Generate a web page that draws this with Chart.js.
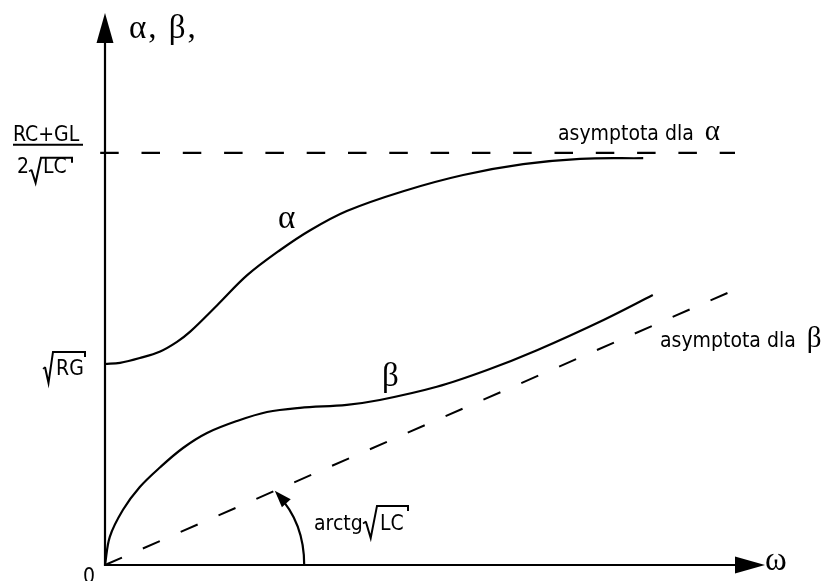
<!DOCTYPE html>
<html>
<head>
<meta charset="utf-8">
<script src="https://cdn.jsdelivr.net/npm/chart.js@4/dist/chart.umd.min.js"></script>
<style>
  html, body { margin: 0; padding: 0; background: #fff; }
  canvas { display: block; }
</style>
</head>
<body>
<canvas id="chart" width="822" height="581"></canvas>
<script>
// Attenuation constant α(ω) of a lossy line
const alphaAtZero = 3.35;   // √RG
const alphaLimit = 6.87;    // (RC+GL) / (2√LC)
const omegaAlpha = [0, 0.25, 0.58, 0.92, 1.2, 1.42, 1.87, 2.37, 2.92, 3.42, 4.03, 4.97, 5.97, 6.97, 7.92, 8.97];
const alphaValues = [alphaAtZero, 3.37, 3.45, 3.56, 3.72, 3.89, 4.33, 4.83, 5.25, 5.58, 5.9, 6.23, 6.5, 6.68, 6.77, 6.78];

// Phase constant β(ω)
const omegaBeta = [0, 0.08, 0.3, 0.58, 0.92, 1.3, 1.7, 2.2, 2.7, 3.25, 4.03, 4.58, 5.53, 6.37, 7.2, 8.3, 9.13];
const betaValues = [0, 0.47, 0.92, 1.3, 1.63, 1.95, 2.2, 2.4, 2.55, 2.62, 2.67, 2.75, 2.97, 3.25, 3.58, 4.08, 4.5];

// Asymptote of β: slope √LC
const betaSlope = 0.437;
const asymptoteSpan = [-0.08, 10.5];

// Angle marker between the ω axis and the β asymptote
const angleArcFrom = 3.32;  // where the arc leaves the ω axis
const angleArcTo = 2.83;    // ω where the arrow meets the asymptote

const SANS = '"DejaVu Sans Condensed", "DejaVu Sans", sans-serif';
const SERIF = '"Liberation Serif", "DejaVu Serif", serif';
const DASH = [18.5, 22.8];

const pts = (xs, ys) => xs.map((x, i) => ({ x, y: ys[i] }));

// Radical sign drawn into a box, followed by the vinculum
function radical(ctx, x0, x1, top, bottom, overEnd) {
  const h = bottom - top, w = x1 - x0;
  ctx.save();
  ctx.lineJoin = 'miter';
  ctx.lineCap = 'butt';
  ctx.lineWidth = 1.6;
  ctx.beginPath();
  ctx.moveTo(x0, top + h * 0.56);
  ctx.lineTo(x0 + w * 0.22, top + h * 0.5);
  ctx.stroke();
  ctx.lineWidth = 2;
  ctx.beginPath();
  ctx.moveTo(x0 + w * 0.2, top + h * 0.5);
  ctx.lineTo(x0 + w * 0.55, bottom);
  ctx.lineTo(x1, top + 0.9);
  ctx.lineTo(overEnd, top + 0.9);
  ctx.lineTo(overEnd, top + 6);
  ctx.stroke();
  ctx.restore();
}

function text(ctx, s, x, y, font) {
  ctx.font = font;
  ctx.fillText(s, x, y);
}

const diagram = {
  id: 'diagram',
  afterDatasetsDraw(chart) {
    const ctx = chart.ctx;
    const xs = chart.scales.x, ys = chart.scales.y;
    const x0 = xs.getPixelForValue(0), y0 = ys.getPixelForValue(0);
    const top = chart.chartArea.top, right = chart.chartArea.right;
    ctx.save();
    ctx.strokeStyle = '#000';
    ctx.fillStyle = '#000';
    ctx.lineCap = 'butt';

    // axes with arrowheads
    ctx.lineWidth = 2.2;
    ctx.beginPath();
    ctx.moveTo(x0, y0 + 1);
    ctx.lineTo(x0, top + 20);
    ctx.moveTo(x0 - 1, y0);
    ctx.lineTo(right - 20, y0);
    ctx.stroke();
    ctx.beginPath();
    ctx.moveTo(x0, top);
    ctx.lineTo(x0 - 8.5, top + 30);
    ctx.lineTo(x0 + 8.5, top + 30);
    ctx.closePath();
    ctx.fill();
    ctx.beginPath();
    ctx.moveTo(right, y0);
    ctx.lineTo(right - 30, y0 - 8.5);
    ctx.lineTo(right - 30, y0 + 8.5);
    ctx.closePath();
    ctx.fill();

    // angle arc with arrow
    const bx = xs.getPixelForValue(angleArcFrom), by = y0;
    const tx = xs.getPixelForValue(angleArcTo), ty = ys.getPixelForValue(betaSlope * angleArcTo);
    const cx = bx, cy = ty + 0.43 * (by - ty);
    ctx.lineWidth = 2.2;
    ctx.beginPath();
    ctx.moveTo(bx, by);
    ctx.quadraticCurveTo(cx, cy, tx + 3, ty + 4);
    ctx.stroke();
    const dx = tx - cx, dy = ty - cy, L = Math.hypot(dx, dy);
    const ux = dx / L, uy = dy / L;
    ctx.beginPath();
    ctx.moveTo(tx, ty);
    ctx.lineTo(tx - ux * 17 - uy * 6, ty - uy * 17 + ux * 6);
    ctx.lineTo(tx - ux * 17 + uy * 6, ty - uy * 17 - ux * 6);
    ctx.closePath();
    ctx.fill();

    ctx.textBaseline = 'alphabetic';
    ctx.textAlign = 'left';
    const sans = '21px ' + SANS, greek = '33px ' + SERIF, greekSmall = '29px ' + SERIF;

    // axis names
    ctx.letterSpacing = '2px';
    text(ctx, 'α, β,', 129, 38, greek);
    ctx.letterSpacing = '0px';
    text(ctx, 'ω', 765, 570, greek);
    text(ctx, '0', 83, 583, sans);

    // (RC+GL) / (2√LC) at the α asymptote
    const yl = ys.getPixelForValue(alphaLimit);
    text(ctx, 'RC+GL', 13, yl - 12, sans);
    ctx.lineWidth = 2;
    ctx.beginPath();
    ctx.moveTo(13, yl - 8);
    ctx.lineTo(83, yl - 8);
    ctx.stroke();
    text(ctx, '2', 17, yl + 20, sans);
    radical(ctx, 29, 41, yl + 4, yl + 30, 72);
    text(ctx, 'LC', 43, yl + 20, sans);

    // √RG at α(0)
    const ya = ys.getPixelForValue(alphaAtZero);
    radical(ctx, 43, 53, ya - 13, ya + 19, 85);
    text(ctx, 'RG', 56, ya + 11, sans);

    // curve names
    text(ctx, 'α', 278, 228, greek);
    text(ctx, 'β', 382, 386, greek);

    // asymptote captions
    ctx.font = sans;
    const wa = ctx.measureText('asymptota dla ').width;
    text(ctx, 'asymptota dla ', 558, 140, sans);
    text(ctx, 'α', 558 + wa + 5, 140, greekSmall);
    text(ctx, 'asymptota dla ', 660, 347, sans);
    text(ctx, 'β', 660 + wa + 5, 347, greekSmall);

    // arctg√LC
    text(ctx, 'arctg', 314, 530, sans);
    radical(ctx, 363, 377, 505, 538, 408);
    text(ctx, 'LC', 380, 530, sans);

    ctx.restore();
  }
};

const line = (data, extra) => Object.assign({
  data,
  showLine: true,
  borderColor: '#000',
  borderWidth: 2.2,
  pointRadius: 0,
  fill: false,
  clip: false
}, extra);

new Chart(document.getElementById('chart'), {
  type: 'scatter',
  data: {
    datasets: [
      line(pts(omegaAlpha, alphaValues), { label: 'α', tension: 0.35 }),
      line(pts(omegaBeta, betaValues), { label: 'β', tension: 0.35 }),
      line(pts(asymptoteSpan, [alphaLimit, alphaLimit]), { label: 'asymptota dla α', borderDash: DASH }),
      line(pts([0, asymptoteSpan[1]], [0, betaSlope * asymptoteSpan[1]]), { label: 'asymptota dla β', borderDash: DASH, borderWidth: 2 })
    ]
  },
  options: {
    responsive: false,
    animation: false,
    devicePixelRatio: 1,
    layout: { padding: { left: 105, right: 57, top: 13, bottom: 16 } },
    scales: {
      x: { type: 'linear', min: 0, max: 11, display: false },
      y: { type: 'linear', min: 0, max: 9.2, display: false }
    },
    plugins: {
      legend: { display: false },
      tooltip: { enabled: false }
    }
  },
  plugins: [diagram]
});
</script>
</body>
</html>
